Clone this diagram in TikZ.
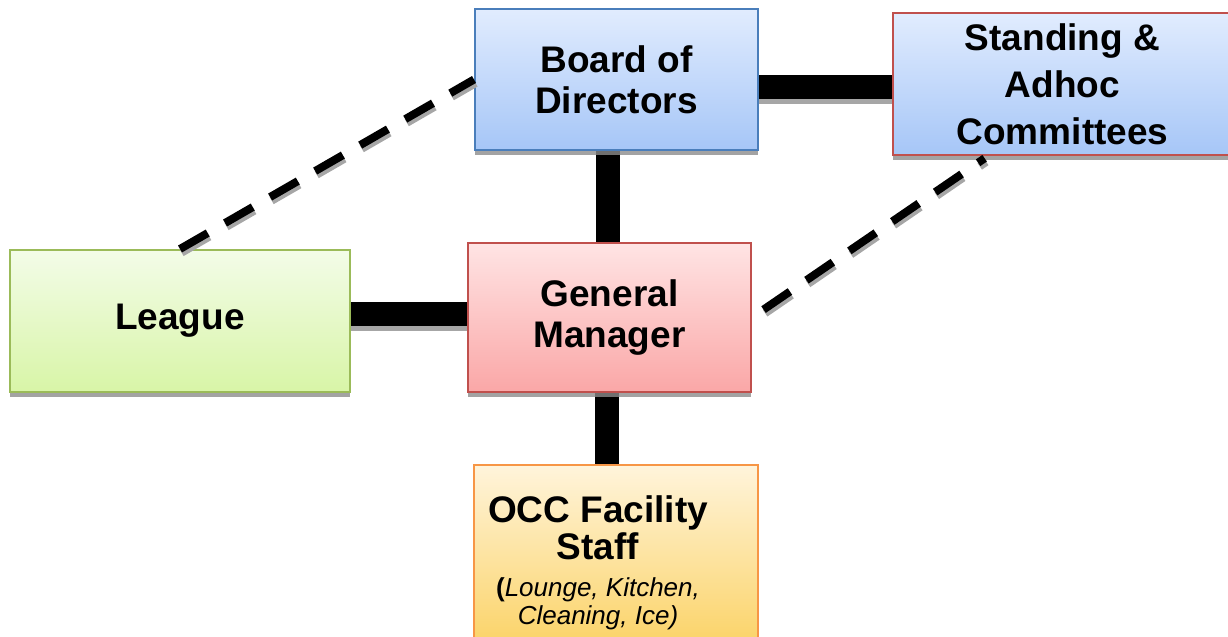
\documentclass[tikz,border=0pt]{standalone}
\usepackage{fontspec}
\setmainfont{Liberation Sans}
\usetikzlibrary{shadows,backgrounds}

\definecolor{bluetop}{HTML}{E1ECFE}
\definecolor{bluebot}{HTML}{A6C6F7}
\definecolor{blueline}{HTML}{4A7EBB}
\definecolor{redtop}{HTML}{FFE4E4}
\definecolor{redbot}{HTML}{FAA7A7}
\definecolor{redline}{HTML}{C0504D}
\definecolor{greentop}{HTML}{F3FCE8}
\definecolor{greenbot}{HTML}{D8F5A7}
\definecolor{greenline}{HTML}{9BBB59}
\definecolor{orangetop}{HTML}{FFF4DB}
\definecolor{orangebot}{HTML}{FBD46B}
\definecolor{orangeline}{HTML}{F79646}

\tikzset{
  box/.style={rectangle, line width=1pt, align=center, inner sep=0pt,
    font=\fontsize{18.5}{20.5}\selectfont\bfseries,
    drop shadow={shadow xshift=0pt, shadow yshift=-2.5pt, fill=black!45, opacity=0.8}},
  bluebox/.style={box, draw=blueline, top color=bluetop, bottom color=bluebot},
  redbox/.style={box, draw=redline, top color=redtop, bottom color=redbot},
  greenbox/.style={box, draw=greenline, top color=greentop, bottom color=greenbot},
  orangebox/.style={box, draw=orangeline, top color=orangetop, bottom color=orangebot},
  thickline/.style={line width=12pt, draw=black,
    preaction={draw=black!35, line width=12pt, transform canvas={yshift=-2.5pt}}},
  dashline/.style={line width=4pt, draw=black, dash pattern=on 16pt off 10pt,
    preaction={draw=black!35, line width=4pt, dash pattern=on 16pt off 10pt,
      transform canvas={shift={(0.8pt,-1.8pt)}}}}
}

\begin{document}
\begin{tikzpicture}[x=0.5pt,y=-0.5pt]

\useasboundingbox (0,0) rectangle (1228,637);

% boxes
\node[bluebox, minimum width=141.5pt, minimum height=70.5pt] (board) at (616.5,79.5) {Board of\\Directors};
\node[bluebox, draw=redline, minimum width=169.5pt, minimum height=71pt,
  font=\fontsize{18.5}{23.5}\selectfont\bfseries] (committees) at (1062.5,84) {Standing \&\\Adhoc\\Committees};
\node[greenbox, minimum width=170pt, minimum height=71pt] (league) at (180,321) {League};
\node[redbox, minimum width=141.5pt, minimum height=74.5pt] (gm) at (609.5,317.5) {General\\Manager};
\node[orangebox, minimum width=142pt, minimum height=87.5pt] (staff) at (616,552.5) {};
\node[align=center, inner sep=0pt, font=\fontsize{18.5}{18.5}\selectfont\bfseries] (stafftext) at (598,563)
  {OCC Facility\\Staff\\{\fontsize{13}{13}\selectfont(\mdseries\itshape Lounge, Kitchen,}\\[-4.5pt]
  {\fontsize{13}{13}\selectfont\mdseries\itshape Cleaning, Ice)}};

% links
\begin{scope}[on background layer]
\draw[thickline] ([yshift=-1.5pt]committees.west) -- ([yshift=-1.5pt]committees.west -| board.east);
\draw[thickline] ([xshift=-1pt]gm.north) -- ([xshift=-1pt]gm.north |- board.south);
\draw[thickline] ([yshift=2pt]gm.west) -- ([yshift=2pt,xshift=-4pt]gm.west -| league.east);
\draw[thickline] ([xshift=-1.5pt]gm.south) -- ([xshift=-1.5pt]gm.south |- staff.north);
\end{scope}

\draw[dashline] (league.north) -- (board.west);
\draw[dashline, shorten <=7pt, shorten >=2pt] (gm.east) -- (committees.224);

\end{tikzpicture}
\end{document}
